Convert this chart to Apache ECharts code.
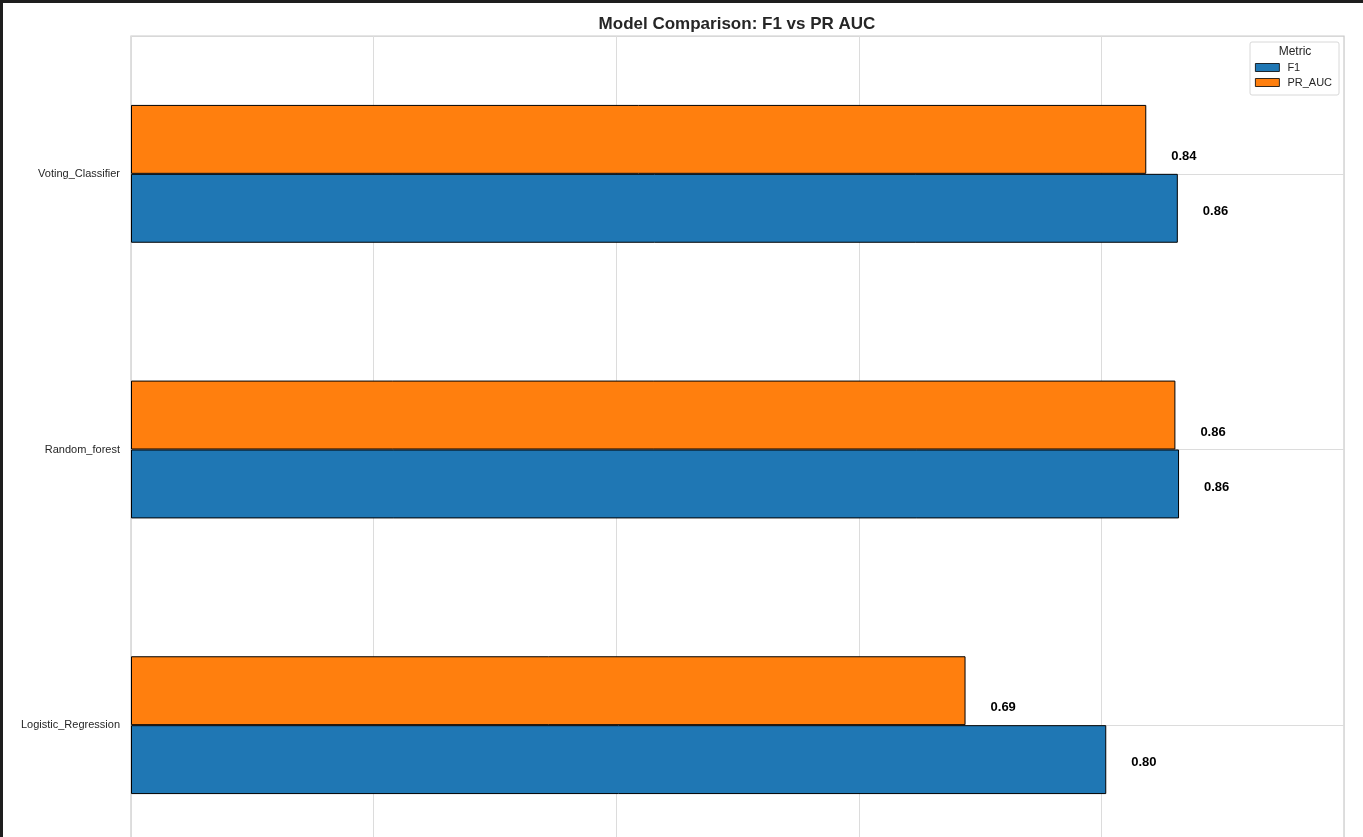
<!DOCTYPE html>
<html>
<head>
<meta charset="utf-8">
<script src="https://cdn.jsdelivr.net/npm/echarts@6/dist/echarts.min.js"></script>
<style>
html,body{margin:0;padding:0;background:#fff;}
#chart{width:1363px;height:837px;}
</style>
</head>
<body>
<div id="chart"></div>
<script>
const categories = ['Logistic_Regression', 'Random_forest', 'Voting_Classifier'];
const f1Values = [0.804, 0.864, 0.863];
const prAucValues = [0.688, 0.861, 0.837];
const xTicks = [0, 0.2, 0.4, 0.6, 0.8, 1.0];
const legendTitle = 'Metric';
const seriesNames = ['F1', 'PR_AUC'];

const FONT = '"Liberation Sans", Arial, sans-serif';
const chart = echarts.init(document.getElementById('chart'));

function labelCfg(dy) {
  return {
    show: true,
    position: 'right',
    distance: 25,
    offset: [0, dy],
    formatter: p => p.value.toFixed(2),
    fontFamily: FONT,
    fontWeight: 'bold',
    fontSize: 13,
    color: '#000'
  };
}

const option = {
  backgroundColor: '#ffffff',
  animation: false,
  title: {
    text: 'Model Comparison: F1 vs PR AUC',
    left: 732,
    textAlign: 'center',
    top: 11,
    textStyle: {fontFamily: FONT, fontWeight: 'bold', fontSize: 17, color: '#262626'}
  },
  legend: {
    orient: 'vertical',
    left: 1255,
    top: 62,
    padding: 0,
    icon: 'rect',
    itemWidth: 24,
    itemHeight: 8,
    itemGap: 4,
    data: seriesNames,
    itemStyle: {borderWidth: 0.8, borderColor: '#000'},
    textStyle: {fontFamily: FONT, fontSize: 11, color: '#262626', padding: [0, 0, 0, 3]}
  },
  grid: {
    left: 131,
    right: 19,
    top: 36,
    height: 827,
    outerBoundsMode: 'none',
    show: true,
    borderColor: '#cccccc',
    borderWidth: 1.25,
    containLabel: false
  },
  xAxis: {
    type: 'value',
    min: xTicks[0],
    max: xTicks[xTicks.length - 1],
    interval: 0.2,
    axisLabel: {show: false},
    axisLine: {show: false},
    axisTick: {show: false},
    splitLine: {show: true, lineStyle: {color: '#dcdcdc', width: 1}}
  },
  yAxis: {
    type: 'category',
    data: categories,
    axisLine: {show: false},
    axisTick: {show: false},
    axisLabel: {fontFamily: FONT, fontSize: 11, color: '#262626', margin: 11},
    splitLine: {show: false}
  },
  series: [
    {
      name: 'gridY',
      type: 'line',
      data: [],
      silent: true,
      z: 1,
      markLine: {
        silent: true,
        symbol: 'none',
        z: 1,
        label: {show: false},
        lineStyle: {color: '#dcdcdc', type: 'solid', width: 1},
        data: categories.map(c => ({yAxis: c}))
      }
    },
    {
      name: seriesNames[1],
      type: 'bar',
      data: prAucValues,
      barWidth: '25%',
      barGap: '0%',
      itemStyle: {color: '#ff7f0e', borderColor: '#000', borderWidth: 1},
      label: labelCfg(17)
    },
    {
      name: seriesNames[0],
      type: 'bar',
      data: f1Values,
      barWidth: '25%',
      barGap: '0%',
      itemStyle: {color: '#1f77b4', borderColor: '#000', borderWidth: 1},
      label: labelCfg(3)
    }
  ],
  graphic: [
    {type: 'rect', shape: {x: 1250, y: 42, width: 89, height: 53, r: 2},
     style: {fill: '#ffffff', stroke: '#d8d8d8', lineWidth: 1}, z: 3},
    {type: 'text', x: 1295, y: 46,
     style: {text: legendTitle, fontFamily: FONT, fontSize: 12, fill: '#262626', textAlign: 'center'}, z: 6},
    {type: 'rect', shape: {x: 0, y: 0, width: 1363, height: 3}, style: {fill: '#1e1e1e'}, z: 10},
    {type: 'rect', shape: {x: 0, y: 0, width: 3, height: 837}, style: {fill: '#1e1e1e'}, z: 10}
  ]
};
chart.setOption(option);
</script>
</body>
</html>
